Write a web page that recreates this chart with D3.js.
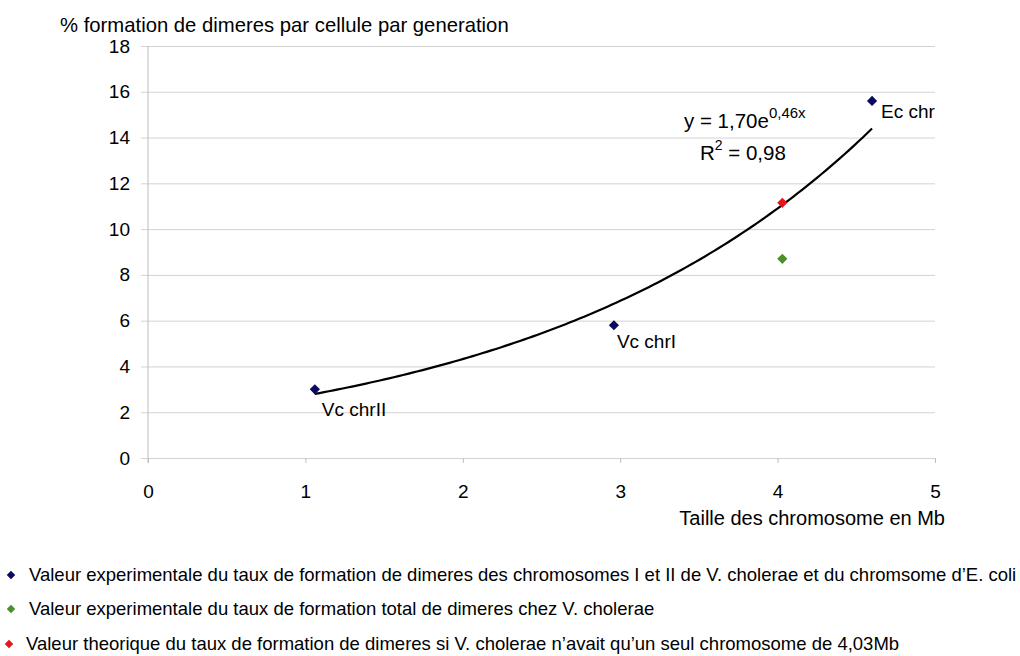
<!DOCTYPE html>
<html>
<head>
<meta charset="utf-8">
<script src="https://cdn.jsdelivr.net/npm/d3@7"></script>
<style>
  html, body { margin: 0; padding: 0; background: #ffffff; }
  svg { display: block; font-family: "Liberation Sans", Arial, sans-serif; }
</style>
</head>
<body>
<svg id="chart" width="1020" height="656"></svg>
<script>
// Chromosome size (Mb) vs dimer formation rate (% per cell per generation)
const xTicks = [0, 1, 2, 3, 4, 5];
const yTicks = [0, 2, 4, 6, 8, 10, 12, 14, 16, 18];

const chromosomeNames = ["Vc chrII", "Vc chrI", "Ec chr"];
const chromosomeSizes = [1.06, 2.96, 4.6];
const chromosomeRates = [3.0, 5.8, 15.6];

const totalVcSizes = [4.03];
const totalVcRates = [8.7];

const theoreticalSizes = [4.03];
const theoreticalRates = [11.15];

const equationText = ["y = 1,70e", "0,46x"];
const r2Text = ["R", "2", " = 0,98"];

const legendLabels = [
  "Valeur experimentale du taux de formation de dimeres des chromosomes I et II de V. cholerae et du chromsome d\u2019E. coli",
  "Valeur experimentale du taux de formation total de dimeres chez V. cholerae",
  "Valeur theorique du taux de formation de dimeres si V. cholerae n\u2019avait qu\u2019un seul chromosome de 4,03Mb"
];
const seriesColors = ["#0a0a5e", "#4d8f2a", "#e3171d"];

const svg = d3.select("#chart");
const x = d3.scaleLinear().domain([0, 5]).range([148, 935]);
const y = d3.scaleLinear().domain([0, 18]).range([458, 46]);

// Horizontal gridlines with left ticks
const yAxis = d3.axisLeft(y).tickValues(yTicks).tickSize(-(935 - 148)).tickPadding(18).tickSizeOuter(0);
const gy = svg.append("g").attr("transform", "translate(148,0)").call(yAxis);
gy.select(".domain").remove();
gy.selectAll(".tick line").attr("stroke", "#d2d2d2").attr("x1", -7).attr("stroke-width", 1);
gy.selectAll(".tick text").attr("font-size", 19).attr("fill", "#000").attr("font-family", "Liberation Sans, Arial, sans-serif");

// Left axis line
svg.append("line").attr("x1", 148).attr("x2", 148).attr("y1", y(18)).attr("y2", 463)
  .attr("stroke", "#bdbdbd");

// Bottom ticks
const xAxis = d3.axisBottom(x).tickValues(xTicks).tickFormat(d3.format("d"))
  .tickSize(5).tickPadding(22).tickSizeOuter(0);
const gx = svg.append("g").attr("transform", "translate(0,458)").call(xAxis);
gx.select(".domain").attr("stroke", "#d2d2d2");
gx.selectAll(".tick line").attr("stroke", "#bdbdbd");
gx.selectAll(".tick text").attr("font-size", 19).attr("fill", "#000").attr("font-family", "Liberation Sans, Arial, sans-serif");

// Axis titles
svg.append("text").attr("x", 60).attr("y", 32).attr("font-size", 20.3)
  .text("% formation de dimeres par cellule par generation");
svg.append("text").attr("x", 945).attr("y", 525).attr("text-anchor", "end").attr("font-size", 20)
  .text("Taille des chromosome en Mb");

// Exponential trendline: least squares fit of ln(rate) against size
const lnRates = chromosomeRates.map(Math.log);
const mx = d3.mean(chromosomeSizes), my = d3.mean(lnRates);
const sxy = d3.sum(chromosomeSizes, (v, i) => (v - mx) * (lnRates[i] - my));
const sxx = d3.sum(chromosomeSizes, v => (v - mx) * (v - mx));
const b = sxy / sxx;
const a = Math.exp(my - b * mx);
const [xmin, xmax] = d3.extent(chromosomeSizes);
const trend = d3.range(0, 121).map(i => {
  const xv = xmin + (xmax - xmin) * i / 120;
  return [xv, a * Math.exp(b * xv)];
});
svg.append("path")
  .datum(trend)
  .attr("fill", "none")
  .attr("stroke", "#000")
  .attr("stroke-width", 2.2)
  .attr("d", d3.line().x(d => x(d[0])).y(d => y(d[1])));

// Diamond markers
const diamond = d3.symbol().type(d3.symbolSquare).size(52);
function markers(sizes, rates, color) {
  svg.append("g").selectAll("path")
    .data(sizes.map((s, i) => [s, rates[i]]))
    .join("path")
    .attr("d", diamond)
    .attr("fill", color)
    .attr("transform", d => `translate(${x(d[0])},${y(d[1])}) rotate(45)`);
}
markers(chromosomeSizes, chromosomeRates, seriesColors[0]);
markers(totalVcSizes, totalVcRates, seriesColors[1]);
markers(theoreticalSizes, theoreticalRates, seriesColors[2]);

// Point labels
const labelOffsets = [[7, 27], [3, 23], [9, 17]];
svg.append("g").selectAll("text")
  .data(chromosomeNames)
  .join("text")
  .attr("x", (d, i) => x(chromosomeSizes[i]) + labelOffsets[i][0])
  .attr("y", (d, i) => y(chromosomeRates[i]) + labelOffsets[i][1])
  .attr("font-size", 19)
  .text(d => d);

// Equation and R²
const eq = svg.append("text").attr("x", 684).attr("y", 128).attr("font-size", 20.5);
eq.append("tspan").text(equationText[0]);
eq.append("tspan").attr("font-size", 15).attr("dy", -10).text(equationText[1]);
const r2 = svg.append("text").attr("x", 700).attr("y", 160).attr("font-size", 20.5);
r2.append("tspan").text(r2Text[0]);
r2.append("tspan").attr("font-size", 14).attr("dy", -10).text(r2Text[1]);
r2.append("tspan").attr("dy", 10).text(r2Text[2]);

// Legend
const legendY = [575, 609, 644];
const legendSymbol = d3.symbol().type(d3.symbolSquare).size(36);
const lg = svg.append("g").selectAll("g")
  .data(legendLabels)
  .join("g")
  .attr("transform", (d, i) => `translate(0,${legendY[i]})`);
lg.append("path")
  .attr("d", legendSymbol)
  .attr("fill", (d, i) => seriesColors[i])
  .attr("transform", (d, i) => `translate(${i === 2 ? 9 : 11},0) rotate(45)`);
lg.append("text")
  .attr("x", (d, i) => i === 2 ? 26 : 29)
  .attr("y", 6)
  .attr("font-size", 18.5)
  .text(d => d);
</script>
</body>
</html>
